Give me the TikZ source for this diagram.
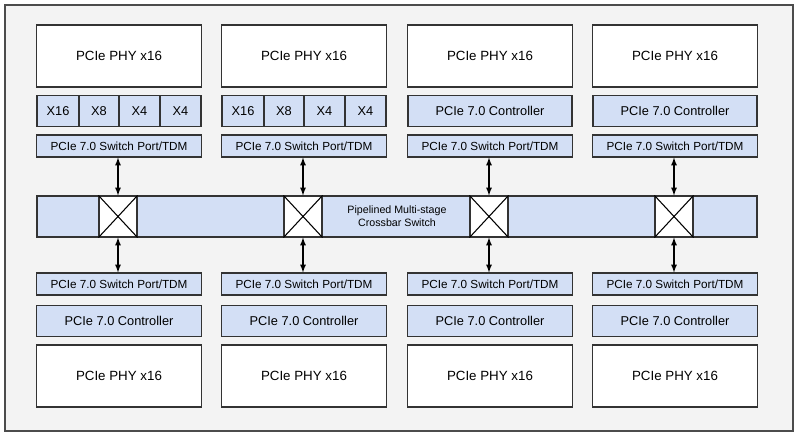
\documentclass[tikz,border=0pt]{standalone}
\usepackage{fontspec}
\setmainfont{Liberation Sans}
\begin{document}
\begin{tikzpicture}[x=0.75pt,y=-0.75pt,
  blk/.style={draw=black!80,line width=0.9pt},
  phy/.style={blk,fill=white,font=\fontsize{10}{12}\selectfont},
  blu/.style={blk,fill=lb},
  sm/.style={font=\fontsize{8.8}{10}\selectfont},
  arr/.style={line width=1pt,<->,>=latex}]
\definecolor{lb}{HTML}{D3DFF5}
\definecolor{bg}{HTML}{F3F3F3}
\useasboundingbox (0,0) rectangle (800,438);
\draw[fill=bg,line width=0.9pt,draw=black!70] (5,5) rectangle (793,431);
\draw[blu] (37,196) rectangle (757,237);
\node[font=\fontsize{8}{10}\selectfont,align=center] (cb) at (397,216) {Pipelined Multi-stage\\Crossbar Switch};
\foreach \i/\x in {1/37,2/222,3/408,4/593}{
  \pgfmathsetmacro{\c}{\x+82}
  \node[phy,minimum width=165*0.75pt,minimum height=62*0.75pt] (tp\i) at (\c,56) {PCIe PHY x16};
  \node[blu,sm,minimum width=165*0.75pt,minimum height=22*0.75pt] (ts\i) at (\c,146) {PCIe 7.0 Switch Port/TDM};
  \node[blu,sm,minimum width=165*0.75pt,minimum height=22*0.75pt] (bs\i) at (\c,284) {PCIe 7.0 Switch Port/TDM};
  \node[blu,font=\fontsize{9.6}{11}\selectfont,minimum width=165*0.75pt,minimum height=31*0.75pt] (bc\i) at (\c,321) {PCIe 7.0 Controller};
  \node[phy,minimum width=165*0.75pt,minimum height=62*0.75pt] (bp\i) at (\c,376) {PCIe PHY x16};
  \node[draw=black!80,line width=0.9pt,fill=white,minimum width=38*0.75pt,minimum height=41*0.75pt,inner sep=0pt] (xb\i) at (\c-1,216.5) {};
  \draw[line width=0.8pt] (xb\i.north west)--(xb\i.south east) (xb\i.north east)--(xb\i.south west);
  \draw[arr] (ts\i.south-|xb\i) -- (xb\i.north);
  \draw[arr] (xb\i.south) -- (bs\i.north-|xb\i);
}
\foreach \i/\x in {1/37,2/222}{
  \foreach \j/\a/\b/\t in {1/0/42/X16,2/42/82/X8,3/82/123/X4,4/123/164/X4}{
    \node[blu,font=\fontsize{9.6}{11}\selectfont,minimum width=(\b-\a)*0.75pt,minimum height=31*0.75pt,inner sep=0pt] (sp\i\j) at (\x+\a/2+\b/2,111) {\t};
  }
}
\foreach \i/\x in {3/408,4/593}{
  \node[blu,font=\fontsize{9.6}{11}\selectfont,minimum width=164*0.75pt,minimum height=31*0.75pt] (tc\i) at (\x+82,111) {PCIe 7.0 Controller};
}
\end{tikzpicture}
\end{document}
